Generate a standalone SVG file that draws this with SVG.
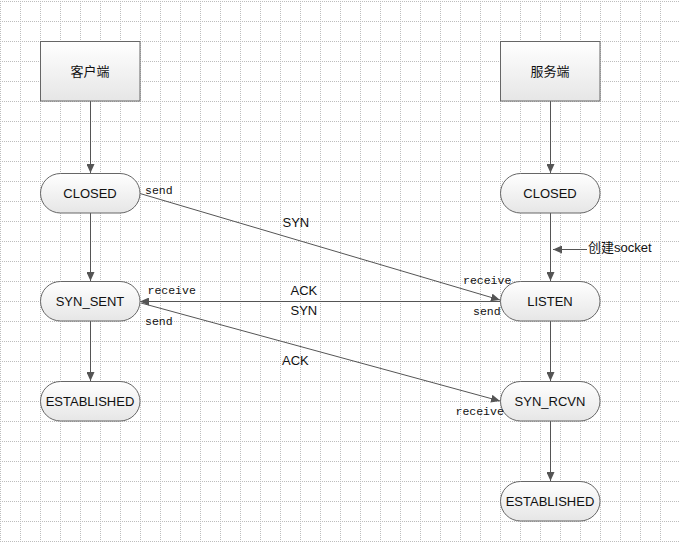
<svg xmlns="http://www.w3.org/2000/svg" width="680" height="543" viewBox="0 0 680 543">
<style>
.node{stroke:#666;stroke-width:1;fill:url(#g)}
.nt{font-family:"Liberation Sans","Noto Sans CJK SC",sans-serif;font-size:13px;fill:#111;text-anchor:middle;dominant-baseline:central}
.lbl{font-family:"Liberation Sans","Noto Sans CJK SC",sans-serif;font-size:13px;fill:#111}
.mono{font-family:"Liberation Mono",monospace;font-size:11.5px;fill:#111}
.edge{stroke:#555;stroke-width:1;fill:none;marker-end:url(#arr)}
</style>
<defs>
<linearGradient id="g" x1="0" y1="0" x2="0" y2="1">
<stop offset="0" stop-color="#ffffff"/>
<stop offset="1" stop-color="#e6e6e6"/>
</linearGradient>
<pattern id="grid" width="20" height="20" patternUnits="userSpaceOnUse" x="0" y="1">
<path d="M0.5 0V20M0 0.5H20" stroke="#bdbdbd" stroke-width="1" stroke-dasharray="1 1" fill="none"/>
</pattern>
<marker id="arr" markerUnits="userSpaceOnUse" markerWidth="9" markerHeight="8" refX="9" refY="4" orient="auto">
<path d="M0 0L9 4L0 8z" fill="#555"/>
</marker>
</defs>
<rect width="680" height="543" fill="#fff"/>
<rect width="680" height="543" fill="url(#grid)"/>

<g id="connectors">
<path class="edge" d="M90.5 101V173"/>
<path class="edge" d="M90.5 213V281"/>
<path class="edge" d="M90.5 321V381"/>
<path class="edge" d="M550.5 101V173"/>
<path class="edge" d="M550.5 213V281"/>
<path class="edge" d="M550.5 321V381"/>
<path class="edge" d="M550.5 421V481"/>
<path class="edge" d="M587 249.5H553"/>
<path class="edge" d="M140 193.5L500 300"/>
<path class="edge" d="M500 301.5H140"/>
<path class="edge" d="M141 303L500 401"/>
</g>

<g id="client"><rect class="node" x="40.5" y="41.5" width="99.5" height="59.5"/><text class="nt" x="90" y="71">客户端</text></g>
<g id="server"><rect class="node" x="500.5" y="41.5" width="99.5" height="59.5"/><text class="nt" x="550" y="71">服务端</text></g>
<g id="c_closed"><rect class="node" x="40.5" y="173.5" width="99.5" height="39.5" rx="20"/><text class="nt" x="90" y="193">CLOSED</text></g>
<g id="c_synsent"><rect class="node" x="40.5" y="281.5" width="99.5" height="39.5" rx="20"/><text class="nt" x="90" y="301">SYN_SENT</text></g>
<g id="c_established"><rect class="node" x="40.5" y="381.5" width="99.5" height="39.5" rx="20"/><text class="nt" x="90" y="401">ESTABLISHED</text></g>
<g id="s_closed"><rect class="node" x="500.5" y="173.5" width="99.5" height="39.5" rx="20"/><text class="nt" x="550" y="193">CLOSED</text></g>
<g id="s_listen"><rect class="node" x="500.5" y="281.5" width="99.5" height="39.5" rx="20"/><text class="nt" x="550" y="301">LISTEN</text></g>
<g id="s_synrcvn"><rect class="node" x="500.5" y="381.5" width="99.5" height="39.5" rx="20"/><text class="nt" x="550" y="401">SYN_RCVN</text></g>
<g id="s_established"><rect class="node" x="500.5" y="481.5" width="99.5" height="39.5" rx="20"/><text class="nt" x="550" y="501">ESTABLISHED</text></g>

<g id="labels">
<text class="lbl" x="588" y="251.5">创建socket</text>
<text class="mono" x="145" y="194">send</text>
<text class="lbl" x="282.5" y="227">SYN</text>
<text class="mono" x="463" y="284">receive</text>
<text class="mono" x="473" y="315">send</text>
<text class="mono" x="147.5" y="294">receive</text>
<text class="lbl" x="290.5" y="295">ACK</text>
<text class="lbl" x="290.5" y="315">SYN</text>
<text class="mono" x="145" y="325">send</text>
<text class="lbl" x="282" y="365">ACK</text>
<text class="mono" x="455.5" y="415">receive</text>
</g>
</svg>
